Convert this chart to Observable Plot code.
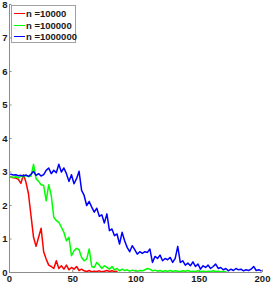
<!DOCTYPE html>
<html>
<head>
<meta charset="utf-8">
<script src="https://cdn.jsdelivr.net/npm/d3@7"></script>
<script src="https://cdn.jsdelivr.net/npm/@observablehq/plot@0.6"></script>
<style>
  html, body { margin: 0; padding: 0; background: #fff; }
  #wrap { position: relative; width: 271px; height: 285px; }
  #legend { position: absolute; left: 11px; top: 5px; width: 65px; height: 38px; border: 1px solid #a0a0a0; background: #fff;
    font: bold 9.5px "Liberation Sans", Arial, sans-serif; color: #1a1a1a; box-sizing: border-box; }
  .row { position: absolute; left: 0; height: 11px; line-height: 11px; white-space: nowrap; }
  .row span.sw { position: absolute; left: 2px; top: 5px; width: 11px; height: 0; border-top: 1.3px solid; }
  .row span.tx { position: absolute; left: 14px; top: 0; }
</style>
</head>
<body>
<div id="wrap"><div id="chart"></div><div id="legend"></div></div>
<script>
const seriesNames = ["n =10000", "n =100000", "n =1000000"];
const seriesColors = ["#ff0000", "#00ff00", "#0000ff"];
const xTicks = [0, 50, 100, 150, 200];
const yTicks = [0, 1, 2, 3, 4, 5, 6, 7, 8];

// sampled at x = 1, 3, 5, ...
const red = [2.85, 2.83, 2.82, 2.78, 2.66, 2.92, 2.70, 2.35, 1.70, 1.05, 0.78, 1.05, 1.32, 0.62, 0.40, 0.22,
  0.18, 0.12, 0.35, 0.12, 0.20, 0.10, 0.22, 0.08, 0.15, 0.10, 0.18, 0.06, 0.10, 0.05, 0.03, 0.06, 0.02, 0.04,
  0.03, 0.05, 0.02, 0.04, 0.06, 0.03, 0.05, 0.03, 0.04];
const green = [2.85, 2.84, 2.86, 2.82, 2.88, 2.85, 2.90, 2.86, 2.88, 3.23, 2.80, 2.72, 2.62, 2.60, 2.14, 2.62,
  2.30, 1.65, 1.55, 1.50, 1.35, 1.20, 0.95, 1.05, 0.50, 0.65, 0.72, 0.68, 0.45, 0.35, 0.40, 0.70, 0.18, 0.15,
  0.30, 0.22, 0.12, 0.20, 0.15, 0.10, 0.18, 0.08, 0.12, 0.05, 0.10, 0.06, 0.08, 0.04, 0.07, 0.05, 0.04, 0.06,
  0.05, 0.08, 0.12, 0.10, 0.05, 0.07, 0.04, 0.06, 0.03, 0.05, 0.04, 0.06, 0.03, 0.05, 0.04, 0.03, 0.05, 0.04,
  0.06, 0.03, 0.04, 0.03, 0.05, 0.03, 0.04, 0.02, 0.04, 0.03, 0.05, 0.03, 0.04, 0.02, 0.03, 0.02];
const blue = [2.93, 2.91, 2.92, 2.89, 2.90, 2.88, 2.91, 2.87, 2.93, 3.02, 2.90, 2.95, 2.88, 2.92, 3.05, 3.12,
  2.95, 3.05, 2.98, 3.23, 3.00, 3.12, 2.95, 2.72, 2.92, 2.65, 2.80, 3.02, 2.45, 2.30, 2.00, 2.12, 1.95, 1.80,
  1.92, 1.68, 1.72, 1.48, 1.75, 1.25, 1.30, 1.10, 1.15, 0.85, 1.20, 0.95, 0.75, 0.62, 0.80, 0.68, 0.55, 0.62,
  0.57, 0.62, 0.60, 0.70, 0.30, 0.48, 0.42, 0.52, 0.35, 0.42, 0.38, 0.45, 0.30, 0.42, 0.78, 0.30, 0.35, 0.22,
  0.28, 0.20, 0.32, 0.18, 0.25, 0.10, 0.20, 0.15, 0.22, 0.12, 0.18, 0.25, 0.12, 0.15, 0.08, 0.12, 0.05, 0.10,
  0.06, 0.12, 0.08, 0.10, 0.05, 0.08, 0.06, 0.10, 0.18, 0.06, 0.08, 0.05];

const allSeries = [red, green, blue];
const rows = [];
allSeries.forEach((vals, si) => vals.forEach((v, i) => rows.push({x: 1 + 2 * i, y: v, s: seriesNames[si]})));

const font = 'bold 9.5px "Liberation Sans", Arial, sans-serif';
const chart = Plot.plot({
  width: 271, height: 285,
  marginLeft: 9, marginRight: 9, marginTop: 4, marginBottom: 13,
  style: {font, color: "#1a1a1a", background: "#fff"},
  x: {domain: [0, 200], label: null},
  y: {domain: [0, 8], label: null},
  color: {domain: seriesNames, range: seriesColors},
  marks: [
    Plot.lineY(rows, {x: "x", y: "y", z: "s", stroke: "s", strokeWidth: 1.5}),
    Plot.ruleX([0], {stroke: "#8c8c8c", strokeWidth: 1}),
    Plot.ruleY([0], {stroke: "#8c8c8c", strokeWidth: 1}),
    Plot.axisY(yTicks, {anchor: "left", tickSize: -2.5, text: null, stroke: "#8c8c8c", label: null}),
    Plot.axisY(yTicks, {anchor: "left", tickSize: 0, tickPadding: 2, fontWeight: "bold", fontSize: 9.5, fill: "#1a1a1a", label: null}),
    Plot.axisX(xTicks, {anchor: "bottom", tickSize: -2.5, text: null, stroke: "#8c8c8c", label: null}),
    Plot.axisX(xTicks, {anchor: "bottom", tickSize: 0, tickPadding: 3, fontWeight: "bold", fontSize: 9.5, fill: "#1a1a1a", label: null})
  ]
});
document.getElementById("chart").appendChild(chart);

const legend = document.getElementById("legend");
seriesNames.forEach((name, i) => {
  const r = document.createElement("div");
  r.className = "row";
  r.style.top = (2 + i * 11.5) + "px";
  r.innerHTML = `<span class="sw" style="border-color:${seriesColors[i]}"></span><span class="tx">${name}</span>`;
  legend.appendChild(r);
});
</script>
</body>
</html>
